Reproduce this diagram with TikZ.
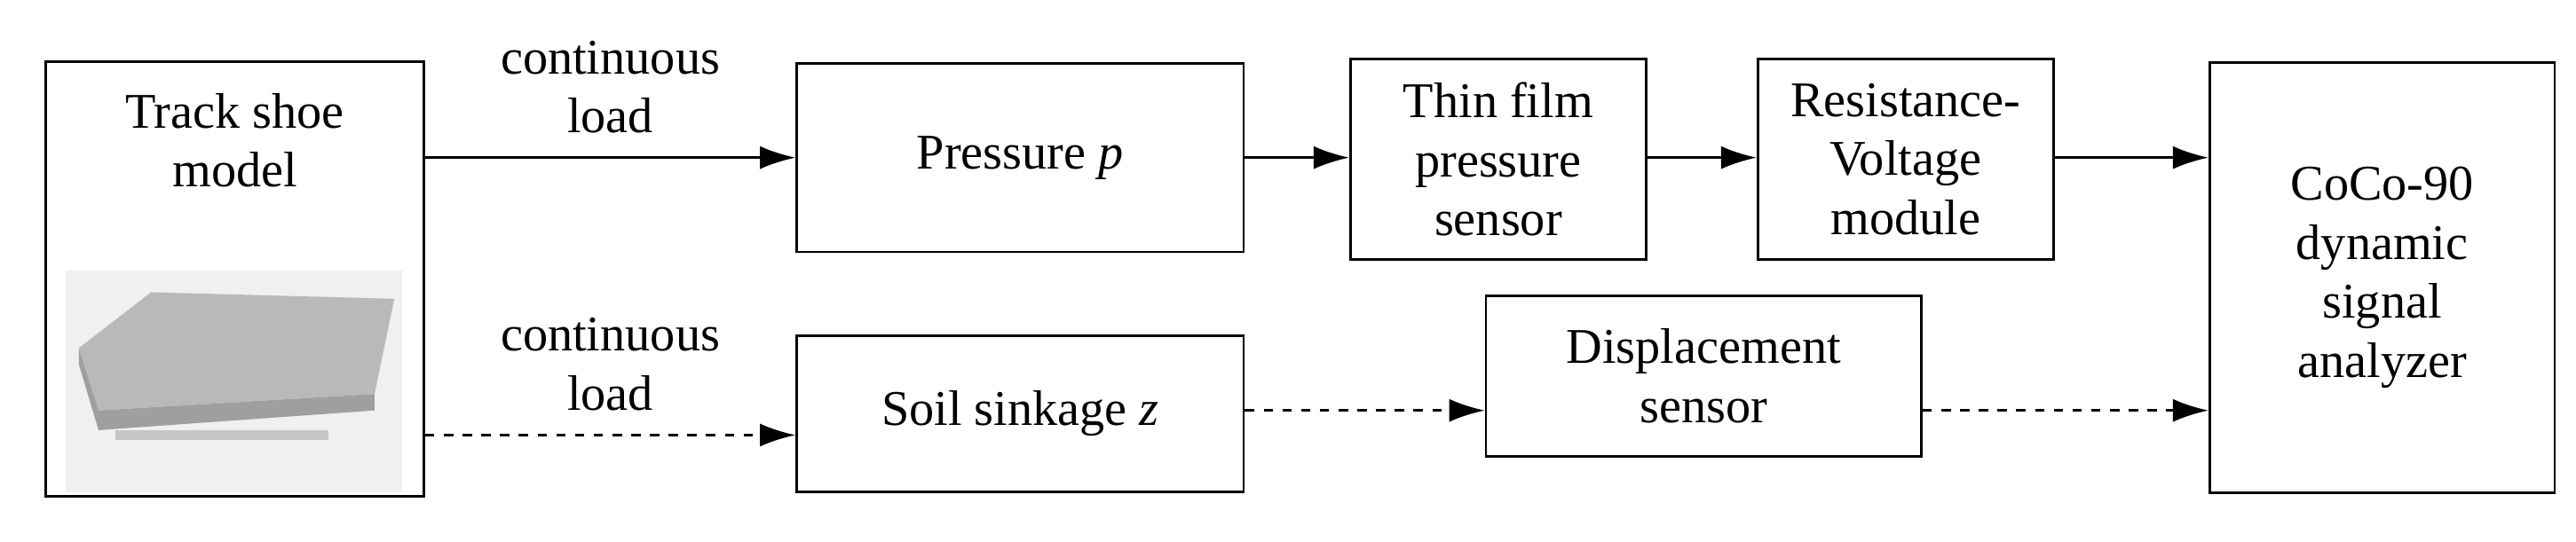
\documentclass[tikz,border=0pt]{standalone}
\usepackage{fontspec}
\setmainfont{Liberation Serif}
\usetikzlibrary{positioning,arrows.meta,calc}

\begin{document}
\begin{tikzpicture}[x=0.0185cm, y=-0.0185cm,
    block/.style={draw, thick, align=center, inner sep=0pt, font=\fontsize{16}{19}\selectfont},
    arrow/.style={-{Latex[length=4mm, width=2.6mm]}, thick},
    lbl/.style={align=center, font=\fontsize{16}{19}\selectfont},
]
\useasboundingbox (0,0) rectangle (1568,330);

% Blocks
\node[block, minimum width=230*0.0185cm, minimum height=265*0.0185cm] (shoe) at (143,170) {};
\node[lbl, anchor=north] (shoetxt) at (143,50) {Track shoe\\model};
\node[block, minimum width=272*0.0185cm, minimum height=115*0.0185cm] (press) at (621,96) {Pressure \textit{p}};
\node[block, minimum width=180*0.0185cm, minimum height=122*0.0185cm] (film) at (912,97) {Thin film\\pressure\\sensor};
\node[block, minimum width=180*0.0185cm, minimum height=122*0.0185cm] (res) at (1160,97) {Resistance-\\Voltage\\module};
\node[block, minimum width=210*0.0185cm, minimum height=262*0.0185cm] (coco) at (1450,169) {CoCo-90\\dynamic\\signal\\analyzer};
\node[block, minimum width=272*0.0185cm, minimum height=95*0.0185cm] (soil) at (621,252) {Soil sinkage \textit{z}};
\node[block, minimum width=265*0.0185cm, minimum height=98*0.0185cm] (disp) at (1037,229) {Displacement\\sensor};

% Photo of the track shoe
\fill[gray!12] (40,165) rectangle (245,300);
\fill[gray!55] (48,212) -- (92,178) -- (240,182) -- (228,240) -- (60,250) -- cycle;
\fill[gray!75] (48,212) -- (60,250) -- (228,240) -- (228,250) -- (60,262) -- (48,222) -- cycle;
\fill[gray!45] (70,262) rectangle (200,268);

% Top signal chain
\coordinate (t1) at (shoe.east |- press.west);
\draw[arrow] (t1) -- node[lbl, above=4pt] {continuous\\load} (press.west);
\draw[arrow] (press.east) -- (film.west |- press.east);
\draw[arrow] (film.east |- press.east) -- (res.west |- press.east);
\draw[arrow] (res.east |- press.east) -- (coco.west |- press.east);

% Bottom signal chain
\coordinate (b1) at (shoe.east |- 0,265);
\coordinate (b2) at (soil.east |- 0,250);
\draw[arrow, dashed] (b1) -- node[lbl, above=4pt] {continuous\\load} (soil.west |- b1);
\draw[arrow, dashed] (b2) -- (disp.west |- b2);
\draw[arrow, dashed] (disp.east |- b2) -- (coco.west |- b2);
\end{tikzpicture}
\end{document}
